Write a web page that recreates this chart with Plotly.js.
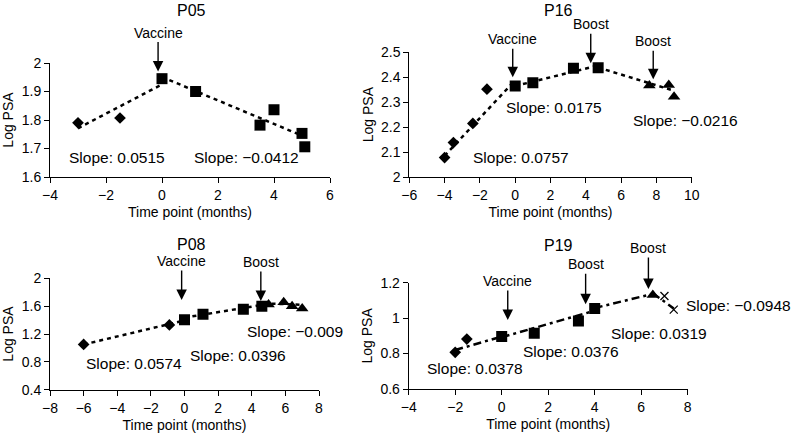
<!DOCTYPE html>
<html>
<head>
<meta charset="utf-8">
<script src="https://cdn.plot.ly/plotly-3.0.1.min.js"></script>
<style>
html,body{margin:0;padding:0;background:#fff;}
#chart{width:792px;height:433px;}
</style>
</head>
<body>
<div id="chart"></div>
<script>
// ---------------- DATA ----------------
// Panel titles
const panelTitles = ["P05", "P16", "P08", "P19"];

// P05
const p05PreX = [-3, -1.5];
const p05PreY = [1.79, 1.807];
const p05VacX = [0, 1.2, 3.5, 4, 5, 5.1];
const p05VacY = [1.945, 1.9, 1.782, 1.836, 1.753, 1.706];
const p05Trend1X = [-3, 0];
const p05Trend1Y = [1.771, 1.925];
const p05Trend2X = [0, 5];
const p05Trend2Y = [1.951, 1.745];
const p05Slopes = ["0.0515", "\u22120.0412"];

// P16
const p16PreX = [-4, -3.5, -2.4, -1.6];
const p16PreY = [2.078, 2.138, 2.215, 2.352];
const p16VacX = [0, 1, 3.3, 4.7];
const p16VacY = [2.365, 2.378, 2.436, 2.438];
const p16BoostX = [7.6, 8.7, 9.0];
const p16BoostY = [2.367, 2.369, 2.322];
const p16Trend1X = [-4, 0];
const p16Trend1Y = [2.085, 2.388];
const p16Trend2X = [0, 4.7];
const p16Trend2Y = [2.365, 2.447];
const p16Trend3X = [4.7, 9];
const p16Trend3Y = [2.439, 2.346];
const p16Slopes = ["0.0757", "0.0175", "\u22120.0216"];

// P08
const p08PreX = [-6, -0.9];
const p08PreY = [1.05, 1.33];
const p08VacX = [0, 1.1, 3.5, 4.6];
const p08VacY = [1.405, 1.485, 1.555, 1.6];
const p08BoostX = [5.0, 5.9, 6.4, 7.0];
const p08BoostY = [1.625, 1.655, 1.6, 1.565];
const p08Trend1X = [-6, 0];
const p08Trend1Y = [1.05, 1.394];
const p08Trend2X = [0, 4.7];
const p08Trend2Y = [1.435, 1.621];
const p08Trend3X = [4.7, 7];
const p08Trend3Y = [1.64, 1.62];
const p08Slopes = ["0.0574", "0.0396", "\u22120.009"];

// P19
const p19PreX = [-2, -1.5];
const p19PreY = [0.807, 0.882];
const p19VacX = [0, 1.4, 3.3, 4.0];
const p19VacY = [0.897, 0.915, 0.984, 1.055];
const p19Boost1X = [6.5];
const p19Boost1Y = [1.13];
const p19Boost2X = [7.0, 7.4];
const p19Boost2Y = [1.125, 1.048];
const p19Trend1X = [-2, 0];
const p19Trend1Y = [0.82, 0.896];
const p19Trend2X = [0, 4];
const p19Trend2Y = [0.892, 1.042];
const p19Trend3X = [4, 6.5];
const p19Trend3Y = [1.057, 1.137];
const p19Trend4X = [6.5, 7.4];
const p19Trend4Y = [1.14, 1.055];
const p19Slopes = ["0.0378", "0.0376", "0.0319", "\u22120.0948"];

// ---------------- CHART ----------------
const W = 792, H = 433;
const FONT = "Liberation Sans, Arial, Helvetica, sans-serif";
const px = v => v / W;
const py = v => 1 - v / H;

function trend(x, y, xa, ya, dash) {
  return {x: x, y: y, xaxis: xa, yaxis: ya, type: "scatter", mode: "lines",
    line: {color: "#000", width: 2.5, dash: dash || "4px,4px"}, hoverinfo: "skip"};
}
function pts(x, y, xa, ya, symbol, size) {
  const thin = symbol === "x-thin-open";
  return {x: x, y: y, xaxis: xa, yaxis: ya, type: "scatter", mode: "markers",
    marker: {symbol: symbol, size: size, color: "#000",
      line: {color: "#000", width: thin ? 1.3 : 0}}};
}

const P19DASH = "8px,4px,3px,4px";
const traces = [
  trend(p05Trend1X, p05Trend1Y, "x", "y"),
  trend(p05Trend2X, p05Trend2Y, "x", "y"),
  pts(p05PreX, p05PreY, "x", "y", "diamond", 9),
  pts(p05VacX, p05VacY, "x", "y", "square", 11),

  trend(p16Trend1X, p16Trend1Y, "x2", "y2"),
  trend(p16Trend2X, p16Trend2Y, "x2", "y2"),
  trend(p16Trend3X, p16Trend3Y, "x2", "y2"),
  pts(p16PreX, p16PreY, "x2", "y2", "diamond", 9),
  pts(p16VacX, p16VacY, "x2", "y2", "square", 11),
  pts(p16BoostX, p16BoostY, "x2", "y2", "triangle-up", 11),

  trend(p08Trend1X, p08Trend1Y, "x3", "y3"),
  trend(p08Trend2X, p08Trend2Y, "x3", "y3"),
  trend(p08Trend3X, p08Trend3Y, "x3", "y3"),
  pts(p08PreX, p08PreY, "x3", "y3", "diamond", 9),
  pts(p08VacX, p08VacY, "x3", "y3", "square", 11),
  pts(p08BoostX, p08BoostY, "x3", "y3", "triangle-up", 11),

  trend(p19Trend1X, p19Trend1Y, "x4", "y4", P19DASH),
  trend(p19Trend2X, p19Trend2Y, "x4", "y4", P19DASH),
  trend(p19Trend3X, p19Trend3Y, "x4", "y4", P19DASH),
  trend(p19Trend4X, p19Trend4Y, "x4", "y4", P19DASH),
  pts(p19PreX, p19PreY, "x4", "y4", "diamond", 9),
  pts(p19VacX, p19VacY, "x4", "y4", "square", 11),
  pts(p19Boost1X, p19Boost1Y, "x4", "y4", "triangle-up", 11),
  pts(p19Boost2X, p19Boost2Y, "x4", "y4", "x-thin-open", 8)
];

function xax(domain, range, anchor) {
  return {domain: domain, range: range, anchor: anchor, dtick: 2,
    showline: true, linecolor: "#000", linewidth: 1, ticks: "outside", ticklen: 5,
    tickcolor: "#000", tickwidth: 1, showgrid: false, zeroline: false,
    tickfont: {family: FONT, size: 14, color: "#000"},
    title: {text: "Time point (months)", font: {family: FONT, size: 14, color: "#000"}, standoff: 5},
    fixedrange: true};
}
function yax(domain, range, anchor, dtick) {
  return {domain: domain, range: range, anchor: anchor, dtick: dtick,
    showline: true, linecolor: "#000", linewidth: 1, ticks: "outside", ticklen: 5,
    tickcolor: "#000", tickwidth: 1, showgrid: false, zeroline: false,
    tickfont: {family: FONT, size: 14, color: "#000"},
    title: {text: "Log PSA", font: {family: FONT, size: 14, color: "#000"}, standoff: 4},
    fixedrange: true};
}

function title(text, xpix, ypix) {
  return {text: text, xref: "paper", yref: "paper", x: px(xpix), y: py(ypix),
    xanchor: "center", yanchor: "middle", showarrow: false,
    font: {family: FONT, size: 16, color: "#000"}};
}
function slope(val, xa, ya, x, y) {
  return {text: "Slope: " + val, xref: xa, yref: ya, x: x, y: y,
    xanchor: "center", yanchor: "middle", showarrow: false,
    font: {family: FONT, size: 15.5, color: "#000"}};
}
function event(text, xa, ya, x, y, ay) {
  return {text: text, xref: xa, yref: ya, x: x, y: y, ax: 0, ay: ay,
    showarrow: true, arrowhead: 2, arrowsize: 1.5, arrowwidth: 1.4, arrowcolor: "#000",
    font: {family: FONT, size: 14, color: "#000"}};
}

const annotations = [
  title(panelTitles[0], 191, 10),
  title(panelTitles[1], 558, 10),
  title(panelTitles[2], 191, 244),
  title(panelTitles[3], 558, 245),

  event("Vaccine", "x", "y", -0.14, 1.97, -39),
  slope(p05Slopes[0], "x", "y", -1.59, 1.667),
  slope(p05Slopes[1], "x", "y", 3.03, 1.667),

  event("Vaccine", "x2", "y2", -0.14, 2.4, -38),
  event("Boost", "x2", "y2", 4.28, 2.456, -39),
  event("Boost", "x2", "y2", 7.82, 2.392, -38),
  slope(p16Slopes[0], "x2", "y2", 0.34, 2.077),
  slope(p16Slopes[1], "x2", "y2", 2.18, 2.279),
  slope(p16Slopes[2], "x2", "y2", 9.64, 2.226),

  event("Vaccine", "x3", "y3", -0.17, 1.688, -39),
  event("Boost", "x3", "y3", 4.54, 1.674, -39),
  slope(p08Slopes[0], "x3", "y3", -3.02, 0.779),
  slope(p08Slopes[1], "x3", "y3", 3.21, 0.898),
  slope(p08Slopes[2], "x3", "y3", 6.55, 1.233),

  event("Vaccine", "x4", "y4", 0.26, 0.99, -39),
  event("Boost", "x4", "y4", 3.61, 1.078, -40),
  event("Boost", "x4", "y4", 6.31, 1.164, -41),
  slope(p19Slopes[0], "x4", "y4", -1.16, 0.717),
  slope(p19Slopes[1], "x4", "y4", 2.97, 0.811),
  slope(p19Slopes[2], "x4", "y4", 6.76, 0.914),
  // this label sits right of the P19 x-range, so it is placed in paper space
  {text: "Slope: " + p19Slopes[3], xref: "paper", yref: "paper", x: px(738), y: py(305.7),
    xanchor: "center", yanchor: "middle", showarrow: false,
    font: {family: FONT, size: 15.5, color: "#000"}}
];

const layout = {
  width: W, height: H,
  margin: {l: 0, r: 0, t: 0, b: 0, pad: 0},
  paper_bgcolor: "#fff", plot_bgcolor: "#fff",
  showlegend: false,
  font: {family: FONT, color: "#000"},
  xaxis:  xax([px(50), px(330)], [-4, 6], "y"),
  yaxis:  yax([py(177), py(63)], [1.6, 2.0], "x", 0.1),
  xaxis2: xax([px(409.3), px(691.7)], [-6, 10], "y2"),
  yaxis2: yax([py(177), py(52.3)], [2.0, 2.5], "x2", 0.1),
  xaxis3: xax([px(50), px(319)], [-8, 8], "y3"),
  yaxis3: yax([py(389.7), py(278.3)], [0.4, 2.0], "x3", 0.4),
  xaxis4: xax([px(408.7), px(687.7)], [-4, 8], "y4"),
  yaxis4: yax([py(389), py(282.7)], [0.6, 1.2], "x4", 0.2),
  annotations: annotations
};

Plotly.newPlot("chart", traces, layout, {staticPlot: true, displayModeBar: false});
</script>
</body>
</html>
